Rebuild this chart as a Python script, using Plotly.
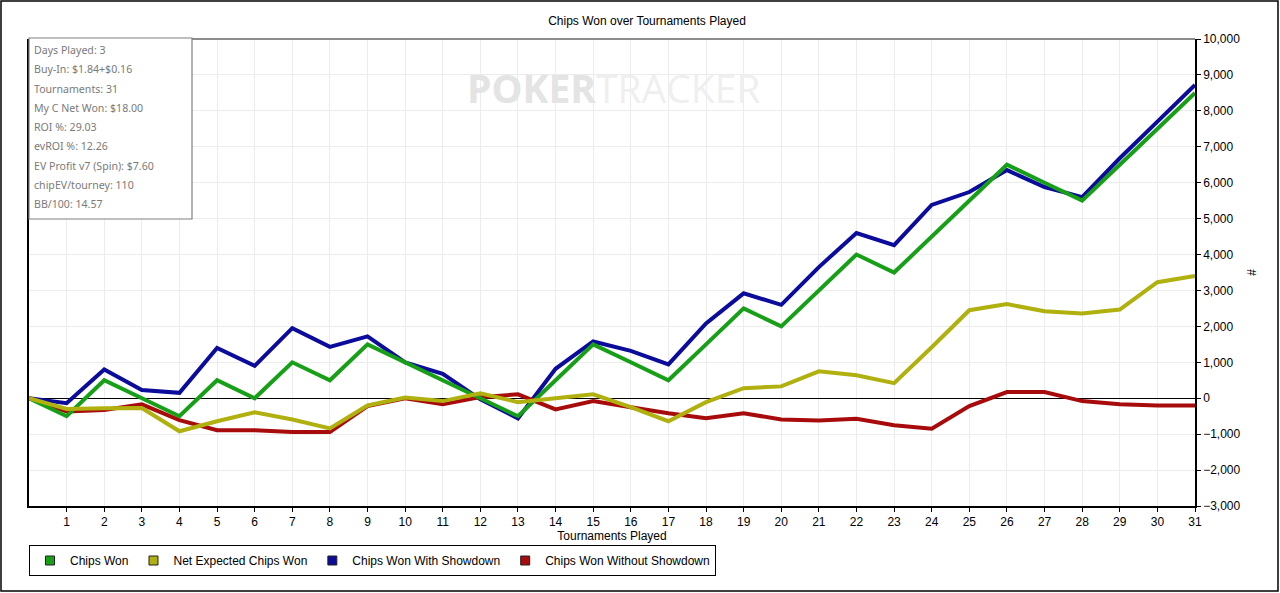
import plotly.graph_objects as go

# Data
tournaments = list(range(0, 32))
chips_won = [0, -500, 500, 0, -500, 500, 0, 1000, 500, 1500, 1000, 500, 0, -500, 500, 1500,
             1000, 500, 1500, 2500, 2000, 3000, 4000, 3500, 4500, 5500, 6500, 6000, 5500, 6500, 7500, 8500]
net_expected = [0, -300, -280, -270, -920, -640, -390, -590, -840, -200, 20, -80, 140, -110, 0, 110,
                -250, -640, -110, 280, 330, 750, 640, 420, 1420, 2450, 2620, 2420, 2360, 2470, 3230, 3400]
with_showdown = [0, -140, 800, 230, 150, 1400, 900, 1950, 1430, 1720, 1000, 680, -30, -560, 820, 1580,
                 1320, 940, 2080, 2920, 2600, 3650, 4600, 4260, 5380, 5740, 6350, 5880, 5600, 6680, 7700, 8720]
without_showdown = [0, -370, -330, -170, -610, -890, -890, -940, -940, -220, 0, -170, 30, 110, -310, -80,
                    -250, -420, -560, -420, -590, -620, -570, -750, -850, -220, 170, 170, -80, -170, -200, -200]

series_names = ["Chips Won", "Net Expected Chips Won", "Chips Won With Showdown", "Chips Won Without Showdown"]
colors = ["#17a017", "#b0b00e", "#0b0b9c", "#a80b0b"]

stats = ["Days Played: 3", "Buy-In: $1.84+$0.16", "Tournaments: 31", "My C Net Won: $18.00",
         "ROI %: 29.03", "evROI %: 12.26", "EV Profit v7 (Spin): $7.60", "chipEV/tourney: 110", "BB/100: 14.57"]

fig = go.Figure()

# lines (drawing order so green/olive sit on top)
for name, ys, col in [(series_names[2], with_showdown, colors[2]),
                      (series_names[3], without_showdown, colors[3]),
                      (series_names[0], chips_won, colors[0]),
                      (series_names[1], net_expected, colors[1])]:
    fig.add_trace(go.Scatter(x=tournaments, y=ys, mode="lines", name=name,
                             line=dict(color=col, width=4), showlegend=False))

# square legend entries
for name, col in zip(series_names, colors):
    fig.add_trace(go.Scatter(x=[None], y=[None], mode="markers", name=name,
                             marker=dict(symbol="square", size=9, color=col,
                                         line=dict(color="#222222", width=1))))

W, H = 1280, 593
L, R, T, B = 29, 85, 39, 87
pw, ph = W - L - R, H - T - B

def px(x):
    return (x - L) / pw

def py(y):
    return (H - B - y) / ph

shapes = [
    # outer frame
    dict(type="rect", xref="paper", yref="paper", x0=px(1), x1=px(1278), y0=py(591), y1=py(1),
         line=dict(color="black", width=1.5)),
    # top border of plot
    dict(type="line", xref="paper", yref="paper", x0=0, x1=1, y0=1, y1=1,
         line=dict(color="#666666", width=1.5)),
    # stats box
    dict(type="rect", xref="paper", yref="paper", x0=px(29), x1=px(192), y0=py(219), y1=py(38),
         line=dict(color="#808080", width=1.2), fillcolor="white", layer="above"),
]

annotations = [
    dict(xref="paper", yref="paper", x=px(613), y=py(87), xanchor="center", yanchor="middle",
         showarrow=False,
         text="<b><span style='color:#e4e4e4'>POKER</span></b><span style='color:#efefef'>TRACKER</span>",
         font=dict(family="Open Sans", size=39, color="#e8e8e8")),
]
for i, s in enumerate(stats):
    annotations.append(dict(xref="paper", yref="paper", x=px(32), y=py(50 + i * 19.25),
                            xanchor="left", yanchor="middle", showarrow=False, text=s,
                            font=dict(family="Noto Sans", size=10.6, color="#7a7a7a")))

fig.update_layout(
    width=W, height=H,
    margin=dict(l=L, r=R, t=T, b=B),
    paper_bgcolor="white", plot_bgcolor="white",
    font=dict(family="Liberation Sans", size=12, color="black"),
    title=dict(text="Chips Won over Tournaments Played", x=647 / W, xanchor="center",
               y=1 - 21 / H, yanchor="middle", font=dict(size=12, color="black")),
    xaxis=dict(range=[0, 31], tickvals=list(range(1, 32)), showgrid=True, gridcolor="#ececec",
               showline=True, linecolor="black", linewidth=1.5, ticks="outside", ticklen=4,
               tickcolor="black", zeroline=False,
               title=dict(text="Tournaments Played", standoff=3, font=dict(size=12))),
    yaxis=dict(range=[-3000, 10000], dtick=1000, tickformat=",", side="right", showgrid=True,
               gridcolor="#ececec", showline=True, linecolor="black", linewidth=1.5, mirror=True,
               ticks="outside", ticklen=4, tickcolor="black",
               zeroline=True, zerolinecolor="black", zerolinewidth=1,
               title=dict(text="#", standoff=8, font=dict(size=12))),
    legend=dict(orientation="h", x=0, xanchor="left", y=py(545), yanchor="top",
                bordercolor="black", borderwidth=1, bgcolor="white", itemwidth=30,
                font=dict(size=12), tracegroupgap=0),
    shapes=shapes,
    annotations=annotations,
)

fig.write_html("out.html", config={"displayModeBar": False},
               post_script="document.body.style.margin='0';document.body.style.overflow='hidden';")
